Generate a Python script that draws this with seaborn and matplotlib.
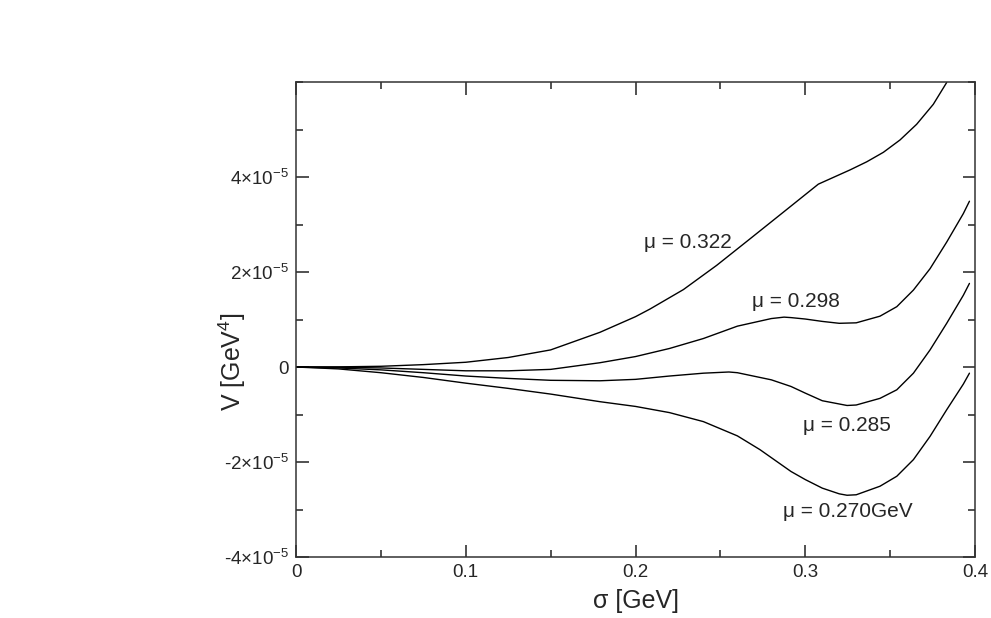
import matplotlib
matplotlib.use("Agg")
import matplotlib.pyplot as plt
import matplotlib.ticker as mticker
import numpy as np
import pandas as pd
import seaborn as sns

# values, V in units of 1e-5 GeV^4
sigma_322 = [0, 0.025, 0.05, 0.075, 0.1, 0.125, 0.15, 0.179, 0.2, 0.2085, 0.2282,
             0.2478, 0.2675, 0.2871, 0.3077, 0.3264, 0.3362, 0.346, 0.3558, 0.3656,
             0.3754, 0.3833]
v_322 = [0, 0.003, 0.015, 0.05, 0.1, 0.2, 0.36, 0.73, 1.06, 1.22, 1.63,
         2.14, 2.70, 3.26, 3.85, 4.15, 4.32, 4.52, 4.78, 5.11,
         5.53, 5.99]

sigma_298 = [0, 0.025, 0.05, 0.075, 0.1, 0.125, 0.15, 0.179, 0.2, 0.22, 0.24, 0.26,
             0.28, 0.2875, 0.2916, 0.30, 0.31, 0.32, 0.33, 0.344, 0.3539, 0.3637,
             0.3735, 0.3833, 0.3931, 0.3967]
v_298 = [0, -0.005, -0.02, -0.05, -0.08, -0.08, -0.05, 0.09, 0.22, 0.39, 0.60, 0.86,
         1.02, 1.05, 1.04, 1.01, 0.96, 0.92, 0.93, 1.07, 1.27, 1.62,
         2.07, 2.63, 3.23, 3.49]

sigma_285 = [0, 0.025, 0.05, 0.075, 0.1, 0.125, 0.15, 0.179, 0.2, 0.22, 0.24, 0.255,
             0.26, 0.28, 0.2916, 0.30, 0.31, 0.3246, 0.33, 0.344, 0.3539, 0.3637,
             0.3735, 0.3833, 0.3931, 0.3967]
v_285 = [0, -0.02, -0.06, -0.12, -0.19, -0.24, -0.28, -0.29, -0.26, -0.19, -0.13, -0.105,
         -0.12, -0.27, -0.41, -0.55, -0.71, -0.81, -0.80, -0.66, -0.48, -0.13,
         0.36, 0.92, 1.51, 1.76]

sigma_270 = [0, 0.025, 0.05, 0.075, 0.1, 0.125, 0.15, 0.179, 0.2, 0.22, 0.24, 0.26,
             0.2733, 0.2916, 0.30, 0.31, 0.32, 0.3246, 0.33, 0.344, 0.3539, 0.3637,
             0.3735, 0.3833, 0.3931, 0.3967]
v_270 = [0, -0.04, -0.12, -0.22, -0.34, -0.45, -0.57, -0.73, -0.83, -0.96, -1.15, -1.45,
         -1.74, -2.2, -2.37, -2.55, -2.67, -2.70, -2.69, -2.51, -2.30, -1.95,
         -1.46, -0.90, -0.36, -0.13]

curve_labels = ["\u03bc = 0.322", "\u03bc = 0.298", "\u03bc = 0.285", "\u03bc = 0.270GeV"]
label_pos = [(0.231, 2.63), (0.2946, 1.37), (0.3246, -1.24), (0.325, -3.05)]

ytick_vals = [-4, -2, 0, 2, 4]
ytick_text = [r"-4$\times$10$^{-5}$", r"-2$\times$10$^{-5}$", "0",
              r"2$\times$10$^{-5}$", r"4$\times$10$^{-5}$"]
xtick_vals = [0, 0.1, 0.2, 0.3, 0.4]
xtick_text = ["0", "0.1", "0.2", "0.3", "0.4"]


def build_frame():
    parts = []
    for name, s, v in [("0.322", sigma_322, v_322), ("0.298", sigma_298, v_298),
                       ("0.285", sigma_285, v_285), ("0.270", sigma_270, v_270)]:
        parts.append(pd.DataFrame({"sigma": s, "V": np.array(v) * 1e-5, "mu": name}))
    return pd.concat(parts, ignore_index=True)


def plot_data(df):
    sns.set_style("ticks")
    plt.rcParams["font.family"] = ["Liberation Sans", "DejaVu Sans"]
    plt.rcParams["mathtext.default"] = "regular"

    fig = plt.figure(figsize=(9.91, 6.18), dpi=100)
    ax = fig.add_axes([0.2987, 0.0987, 0.6852, 0.7686])

    for name in df["mu"].unique():
        sub = df[df["mu"] == name]
        sns.lineplot(data=sub, x="sigma", y="V", ax=ax, color="black", lw=1.0,
                     sort=False, estimator=None)

    ax.set_xlim(0, 0.4)
    ax.set_ylim(-4e-5, 6e-5)
    ax.set_xticks(xtick_vals)
    ax.set_xticklabels(xtick_text)
    ax.set_yticks([t * 1e-5 for t in ytick_vals])
    ax.set_yticklabels(ytick_text)
    ax.xaxis.set_minor_locator(mticker.MultipleLocator(0.05))
    ax.yaxis.set_minor_locator(mticker.MultipleLocator(1e-5))
    ax.tick_params(which="both", direction="in", top=True, right=True,
                   color="#222222", width=1.1, labelsize=13.5)
    ax.tick_params(which="major", length=9, pad=5)
    ax.tick_params(which="minor", length=5)
    for sp in ax.spines.values():
        sp.set_linewidth(1.1)
        sp.set_color("#333333")

    ax.set_xlabel("\u03c3 [GeV]", fontsize=18, labelpad=6)
    ax.set_ylabel("V [GeV$^4$]", fontsize=18)
    ax.yaxis.set_label_coords(-0.07, 0.41)

    for txt, (x, y) in zip(curve_labels, label_pos):
        ax.text(x, y * 1e-5, txt, fontsize=15, ha="center", va="center")

    fig.savefig("out.png", dpi=100)


def main():
    df = build_frame()
    plot_data(df)


if __name__ == "__main__":
    main()
